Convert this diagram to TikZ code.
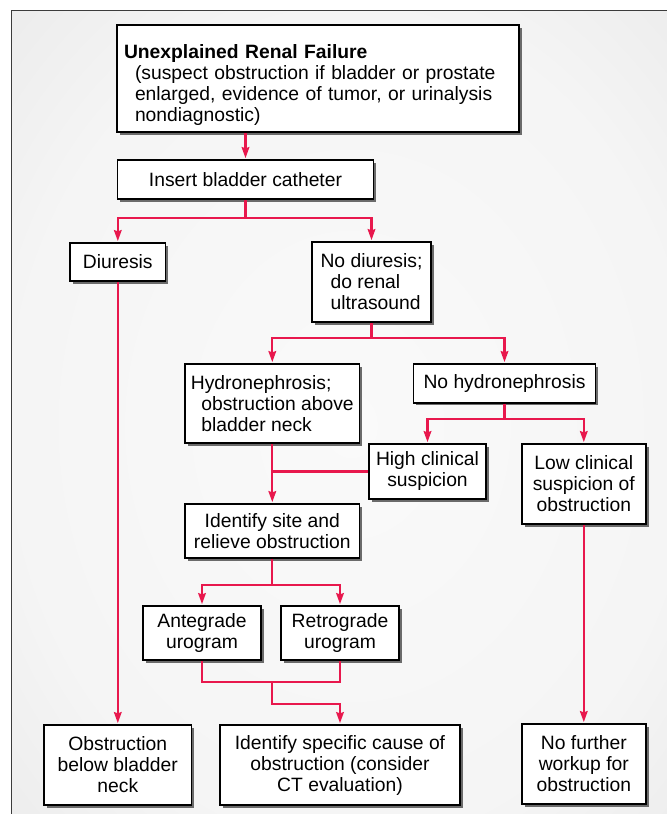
\documentclass[tikz,border=0pt]{standalone}
\usepackage{fontspec}
\setmainfont{Liberation Sans}
\usetikzlibrary{arrows.meta,shadows}
\definecolor{flow}{HTML}{E8184D}
\definecolor{frameline}{HTML}{3C3C3C}
\pgfdeclareradialshading{panelshade}{\pgfpoint{0bp}{0bp}}{color(0bp)=(black!2); color(25bp)=(black!4); color(50bp)=(black!12)}

\begin{document}
\begin{tikzpicture}[x=0.5pt,y=-0.5pt,
  sz/.style 2 args={minimum width=#1*0.5pt, minimum height=#2*0.5pt},
  boxfont/.style={font=\fontsize{9.65pt}{10.5pt}\selectfont},
  box/.style={draw=black, line width=0.85pt, fill=white, inner sep=0pt, align=center, boxfont,
    general shadow={fill=black!58, shadow xshift=1.4pt, shadow yshift=-1.4pt}},
  link/.style={draw=flow, line width=1.1pt},
  arr/.style={link, -{Stealth[length=5.5pt,width=3.8pt,inset=0.6pt]}, shorten >=0.5pt},
]
% page and panel
\fill[white] (0,0) rectangle (667,814);
\useasboundingbox (0,0) rectangle (667,814);
\begin{scope}
  \clip (0,0) rectangle (667,814);
  \shadedraw[draw=frameline, line width=0.65pt, shading=panelshade] (11.5,10.7) rectangle (690,840);
\end{scope}

% boxes
\node[box, sz={402}{107}] (top) at (318,78.5) {};
\node[boxfont, inner sep=0pt, text width=388*0.5pt, align=left, yshift=-3.3pt] (toptext) at (top.center)
  {\textbf{Unexplained Renal Failure}\\
   \hspace*{5.5pt}(suspect obstruction if bladder or prostate\\
   \hspace*{5.5pt}enlarged, evidence of tumor, or urinalysis\\
   \hspace*{5.5pt}nondiagnostic)};
\node[box, sz={256}{39}] (cath) at (245.5,179.5) {Insert bladder catheter};
\node[box, sz={95.4}{38}] (diur) at (117.8,262) {Diuresis};
\node[box, sz={118.6}{80}, align=left] (nodi) at (371.5,282)
  {No diuresis;\\ \hspace*{5pt}do renal\\ \hspace*{5pt}ultrasound};
\node[box, sz={174.6}{79}, align=left] (hydro) at (272.3,403.5)
  {Hydronephrosis;\\ \hspace*{5.25pt}obstruction above\\ \hspace*{5.25pt}bladder neck};
\node[box, sz={182}{38.7}] (nohydro) at (504.5,383.3) {No hydronephrosis};
\node[box, sz={117.5}{55}] (high) at (427.5,471.5) {High clinical\\suspicion};
\node[box, sz={124}{80}] (low) at (583.8,484) {Low clinical\\suspicion of\\obstruction};
\node[box, sz={174.6}{54}] (ident) at (272.3,531) {Identify site and\\relieve obstruction};
\node[box, sz={118}{54}] (ante) at (202,633) {Antegrade\\urogram};
\node[box, sz={118}{54}] (retro) at (340,633) {Retrograde\\urogram};
\node[box, sz={147.5}{80}] (obst) at (117.8,765) {Obstruction\\below bladder\\neck};
\node[box, sz={239.6}{80}] (cause) at (340,765) {Identify specific cause of\\obstruction (consider\\CT evaluation)};
\node[box, sz={124}{80}] (nofur) at (583.8,764) {No further\\workup for\\obstruction};

% junction points
\coordinate (j1) at (245.5,218);
\coordinate (j2) at (371.5,337.7);
\coordinate (j3) at (504.5,419);
\coordinate (j4) at (272.3,585);
\coordinate (j5) at (272.3,682);
\coordinate (j6) at (272.3,703.7);

% connectors
\draw[arr] (top.south -| cath.north) -- (cath.north);
\draw[link] (cath.south) -- (j1);
\draw[arr] (j1) -| (diur.north);
\draw[arr] (j1) -| (nodi.north);
\draw[link] (nodi.south) -- (j2);
\draw[arr] (j2) -| (hydro.north);
\draw[arr] (j2) -| (nohydro.north);
\draw[link] (nohydro.south) -- (j3);
\draw[arr] (j3) -| (high.north);
\draw[arr] (j3) -| (low.north);
\draw[arr] (hydro.south) -- (ident.north);
\draw[link] (high.west) -- (high.west -| hydro.south);
\draw[link] (ident.south) -- (j4);
\draw[arr] (j4) -| (ante.north);
\draw[arr] (j4) -| (retro.north);
\draw[link] (ante.south) |- (j5) -| (retro.south);
\draw[arr] (j5) -- (j6) -| (cause.north);
\draw[arr] (diur.south) -- (obst.north);
\draw[arr] (low.south) -- (nofur.north);
\end{tikzpicture}
\end{document}
